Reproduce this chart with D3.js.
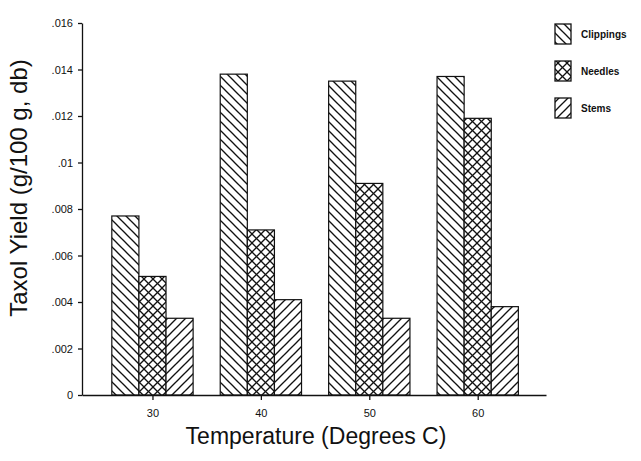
<!DOCTYPE html>
<html><head><meta charset="utf-8">
<script src="https://cdn.jsdelivr.net/npm/d3@7"></script>
<style>body{margin:0;background:#fff}</style>
</head><body>
<svg id="chart" width="641" height="461"></svg>
<script>
// Taxol yield by extraction temperature, three plant fractions
const temperatures = [30, 40, 50, 60];
const clippings = [0.0077, 0.0138, 0.0135, 0.0137];
const needles = [0.0051, 0.0071, 0.0091, 0.0119];
const stems = [0.0033, 0.0041, 0.0033, 0.0038];
const seriesNames = ["Clippings", "Needles", "Stems"];
const yTicks = [0, 0.002, 0.004, 0.006, 0.008, 0.01, 0.012, 0.014, 0.016];
const yTickLabels = ["0", ".002", ".004", ".006", ".008", ".01", ".012", ".014", ".016"];

const svg = d3.select("#chart");
const font = "Liberation Sans, Arial, Helvetica, sans-serif";

// hatch patterns
const defs = svg.append("defs");
function hatch(id, paths) {
  const p = defs.append("pattern").attr("id", id)
    .attr("patternUnits", "userSpaceOnUse").attr("width", 9).attr("height", 9);
  p.append("rect").attr("width", 9).attr("height", 9).attr("fill", "#fff");
  paths.forEach(d => p.append("path").attr("d", d)
    .attr("stroke", "#111").attr("stroke-width", 1.3).attr("fill", "none"));
}
hatch("back", ["M-2,-2 L11,11", "M-2,7 L2,11", "M7,-2 L11,2"]);
hatch("fwd", ["M-2,11 L11,-2", "M-2,2 L2,-2", "M7,11 L11,7"]);
hatch("cross", ["M-2,-2 L11,11", "M-2,7 L2,11", "M7,-2 L11,2",
                "M-2,11 L11,-2", "M-2,2 L2,-2", "M7,11 L11,7"]);
const fills = ["url(#back)", "url(#cross)", "url(#fwd)"];

const x = d3.scaleLinear().domain([23.5, 66.3]).range([82, 546]);
const y = d3.scaleLinear().domain([0, 0.016]).range([395, 23]);
const barW = 2.5; // in temperature units

const series = [clippings, needles, stems];
series.forEach((vals, si) => {
  svg.append("g").selectAll("rect").data(temperatures).join("rect")
    .attr("x", (t) => x(t + (si - 1.5) * barW))
    .attr("y", (t, i) => y(vals[i]))
    .attr("width", (t) => x(t + (si - 0.5) * barW) - x(t + (si - 1.5) * barW))
    .attr("height", (t, i) => y(0) - y(vals[i]))
    .attr("fill", fills[si]).attr("stroke", "#111").attr("stroke-width", 1.2);
});

// axes
const yAxis = d3.axisLeft(y).tickValues(yTicks)
  .tickFormat((d, i) => yTickLabels[i]).tickSize(4).tickSizeOuter(0).tickPadding(5);
const gy = svg.append("g").attr("transform", `translate(${x.range()[0]},0)`).call(yAxis);
const xAxis = d3.axisBottom(x).tickValues(temperatures).tickSize(5).tickSizeOuter(0).tickPadding(9);
const gx = svg.append("g").attr("transform", `translate(0,${y(0)})`).call(xAxis);
[gx, gy].forEach(g => {
  g.selectAll("path,line").attr("stroke", "#111").attr("stroke-width", 1.3);
  g.selectAll("text").attr("font-family", font).attr("font-size", 11).attr("fill", "#111");
});

// titles
svg.append("text").attr("x", 316).attr("y", 444).attr("text-anchor", "middle")
  .attr("font-family", font).attr("font-size", 23).attr("fill", "#111")
  .text("Temperature (Degrees C)");
svg.append("text").attr("transform", "translate(27,188) rotate(-90)").attr("text-anchor", "middle")
  .attr("font-family", font).attr("font-size", 24).attr("fill", "#111")
  .text("Taxol Yield (g/100 g, db)");

// legend
const lg = svg.append("g");
seriesNames.forEach((name, i) => {
  const yy = 24 + i * 37;
  lg.append("rect").attr("x", 555).attr("y", yy).attr("width", 16).attr("height", 20)
    .attr("fill", fills[i]).attr("stroke", "#111").attr("stroke-width", 1.3);
  lg.append("text").attr("x", 581).attr("y", yy + 14).attr("font-family", font)
    .attr("font-size", 10).attr("font-weight", "bold").attr("fill", "#111").text(name);
});
</script>
</body></html>
